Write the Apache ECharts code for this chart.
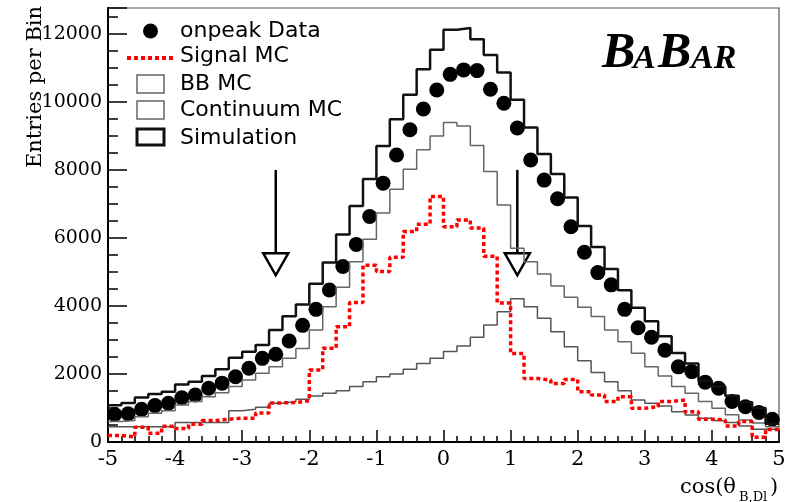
<!DOCTYPE html>
<html>
<head>
<meta charset="utf-8">
<title>cos(theta B,Dl)</title>
<script src="https://cdn.jsdelivr.net/npm/echarts@6.0.0/dist/echarts.min.js"></script>
<style>
html, body { margin: 0; padding: 0; background: #fff; }
#chart { width: 793px; height: 502px; }
</style>
</head>
<body>
<div id="chart"></div>
<script>
// 50 bins of width 0.2 from -5 to 5
const xMin = -5
const binWidth = 0.2
const yMax = 12760

const onpeakData = [810, 830, 960, 1070, 1140, 1300, 1380, 1580, 1730, 1920,
    2170, 2460, 2580, 2970, 3430, 3900, 4470, 5160, 5810, 6630,
    7610, 8440, 9180, 9790, 10350, 10810, 10940, 10920, 10370, 9960,
    9230, 8290, 7700, 7150, 6330, 5580, 4980, 4620, 3900, 3360,
    3080, 2700, 2210, 2070, 1760, 1580, 1190, 1040, 870, 670]
const signalMC = [190, 150, 430, 255, 460, 400, 520, 630, 670, 700,
    700, 850, 1150, 1160, 1215, 2120, 2760, 3390, 4100, 5200,
    5010, 5430, 6190, 6400, 7220, 6330, 6530, 6290, 5460, 4090,
    2600, 1870, 1820, 1720, 1840, 1480, 1380, 1190, 1330, 990,
    1040, 1190, 1235, 890, 670, 650, 470, 600, 140, 370]
// BB MC drawn stacked on top of continuum
const bbMC = [600, 630, 745, 845, 920, 1090, 1190, 1330, 1450, 1630,
    1820, 2020, 2215, 2460, 2750, 3290, 3980, 4550, 5300, 5960,
    6730, 7430, 8020, 8590, 9000, 9390, 9290, 8720, 7950, 6970,
    5700, 5300, 4940, 4590, 4255, 3960, 3690, 3290, 2950, 2610,
    2215, 1940, 1630, 1430, 1190, 990, 800, 650, 560, 450]
const continuumMC = [450, 450, 450, 450, 450, 570, 570, 570, 570, 920,
    960, 1020, 1140, 1190, 1255, 1350, 1430, 1510, 1630, 1775,
    1920, 2000, 2140, 2310, 2460, 2660, 2820, 3080, 3440, 3830,
    4210, 3980, 3640, 3245, 2800, 2390, 2040, 1775, 1510, 1235,
    1140, 1060, 890, 795, 700, 630, 570, 470, 375, 375]
const simulation = [1080, 1150, 1310, 1410, 1480, 1690, 1770, 1940, 2140, 2480,
    2650, 2850, 3290, 3700, 4040, 4650, 5280, 6100, 6940, 7730,
    8700, 9490, 10210, 10960, 11530, 12120, 12170, 11840, 11380, 10860,
    10060, 9250, 8470, 7880, 7190, 6350, 5730, 5090, 4460, 3950,
    3550, 3110, 2620, 2310, 1800, 1630, 1360, 1170, 1000, 540]
// cut arrows: x position, arrow start, arrow tip
const cutX = [-2.5, 1.1]
const arrowStart = 8000
const arrowTip = 4900

// histogram as step line through the bin edges
const toSteps = vals => {
    const pts = vals.map((v, i) => [xMin + i * binWidth, v])
    pts.push([xMin + vals.length * binWidth, vals[vals.length - 1]])
    return pts
}
const toCenters = vals => vals.map((v, i) => [xMin + (i + 0.5) * binWidth, v])

const serif = 'DejaVu Serif'
const sans = 'DejaVu Sans'

const histLine = (name, vals, lineStyle) => ({
    name: name,
    type: 'line',
    step: 'end',
    data: toSteps(vals),
    symbol: 'none',
    silent: true,
    lineStyle: lineStyle
})

const legendRow = (text, y) => ({
    type: 'text', x: 180, y: y,
    style: { text: text, font: '22px "' + sans + '"', fill: '#000', align: 'left', verticalAlign: 'middle' }
})

const myChart = echarts.init(document.getElementById('chart'))
myChart.setOption({
    animation: false,
    grid: {
        left: 108, right: 14, top: 8, bottom: 60,
        show: true, borderColor: '#555', borderWidth: 1.2, backgroundColor: 'transparent'
    },
    xAxis: {
        type: 'value', min: -5, max: 5, interval: 1,
        axisLine: { onZero: false, lineStyle: { color: '#000', width: 2 } },
        axisTick: { inside: true, length: 12, lineStyle: { color: '#000', width: 1.5 } },
        minorTick: { show: true, splitNumber: 5, length: 6, lineStyle: { color: '#000', width: 1.5 } },
        axisLabel: { fontFamily: serif, fontSize: 21, color: '#000', margin: 7 },
        splitLine: { show: false }
    },
    yAxis: [
        {
            type: 'value', min: 0, max: yMax, interval: 2000, position: 'left',
            axisLine: { show: true, onZero: false, lineStyle: { color: '#000', width: 2 } },
            axisTick: { inside: true, length: 19, lineStyle: { color: '#000', width: 1.5 } },
            axisLabel: {
                fontFamily: serif, fontSize: 19, color: '#000', margin: 6,
                formatter: v => (v % 2000 === 0 ? String(v) : '')
            },
            splitLine: { show: false }
        },
        {
            // minor ticks every 500
            type: 'value', min: 0, max: yMax, interval: 500, position: 'left', offset: 0,
            axisLine: { show: false, onZero: false },
            axisTick: { show: true, inside: true, length: 10, lineStyle: { color: '#000', width: 1.5 } },
            axisLabel: { show: false },
            splitLine: { show: false }
        }
    ],
    series: [
        histLine('Continuum MC', continuumMC, { color: '#555', width: 1.5 }),
        histLine('BB MC', bbMC, { color: '#666', width: 1.5 }),
        histLine('Simulation', simulation, { color: '#111', width: 2.5 }),
        histLine('Signal MC', signalMC, { color: '#ff0000', width: 3.5, type: [4, 3] }),
        {
            name: 'onpeak Data',
            type: 'scatter',
            data: toCenters(onpeakData),
            symbol: 'circle',
            symbolSize: 15,
            silent: true,
            itemStyle: { color: '#000', opacity: 1 }
        },
        {
            type: 'custom',
            silent: true,
            data: cutX.map(x => [x, arrowStart, arrowTip]),
            encode: { x: 0, y: 1 },
            renderItem: (params, api) => {
                const a = api.coord([api.value(0), api.value(1)])
                const b = api.coord([api.value(0), api.value(2)])
                const h = 22, w = 12.5
                return {
                    type: 'group',
                    children: [
                        { type: 'line', shape: { x1: a[0], y1: a[1], x2: b[0], y2: b[1] - h },
                          style: { stroke: '#000', lineWidth: 2.5 } },
                        { type: 'polygon', shape: { points: [[b[0] - w, b[1] - h], [b[0] + w, b[1] - h], [b[0], b[1]]] },
                          style: { fill: '#fff', stroke: '#000', lineWidth: 2.5 } }
                    ]
                }
            }
        }
    ],
    graphic: [
        // axis titles
        { type: 'text', x: 36, y: 87, rotation: Math.PI / 2,
          style: { text: 'Entries per Bin', font: '21px "' + serif + '"', fill: '#000', align: 'center', verticalAlign: 'middle' } },
        { type: 'text', x: 680, y: 488,
          style: { text: 'cos(θ', font: '21px "' + serif + '"', fill: '#000', align: 'left', verticalAlign: 'middle' } },
        { type: 'text', x: 739, y: 498,
          style: { text: 'B,Dl', font: '13px "' + serif + '"', fill: '#000', align: 'left', verticalAlign: 'middle' } },
        { type: 'text', x: 770, y: 488,
          style: { text: ')', font: '21px "' + serif + '"', fill: '#000', align: 'left', verticalAlign: 'middle' } },
        // legend
        { type: 'circle', shape: { cx: 150.5, cy: 31, r: 7.5 }, style: { fill: '#000' } },
        { type: 'line', shape: { x1: 127, y1: 58, x2: 174, y2: 58 }, style: { stroke: '#ff0000', lineWidth: 4, lineDash: [4, 3] } },
        { type: 'rect', shape: { x: 137, y: 75, width: 27, height: 18 }, style: { fill: 'none', stroke: '#666', lineWidth: 1.5 } },
        { type: 'rect', shape: { x: 137, y: 101, width: 27, height: 18 }, style: { fill: 'none', stroke: '#666', lineWidth: 1.5 } },
        { type: 'rect', shape: { x: 137, y: 129, width: 27, height: 16 }, style: { fill: 'none', stroke: '#111', lineWidth: 3 } },
        legendRow('onpeak Data', 31),
        legendRow('Signal MC', 56),
        legendRow('BB MC', 84),
        legendRow('Continuum MC', 110),
        legendRow('Simulation', 138),
        // experiment logo
        { type: 'text', x: 602, y: 54,
          style: { text: 'B', font: 'italic bold 50px "Liberation Serif"', fill: '#000', verticalAlign: 'middle' } },
        { type: 'text', x: 633, y: 59,
          style: { text: 'A', font: 'italic bold 34px "Liberation Serif"', fill: '#000', verticalAlign: 'middle' } },
        { type: 'text', x: 658, y: 54,
          style: { text: 'B', font: 'italic bold 50px "Liberation Serif"', fill: '#000', verticalAlign: 'middle' } },
        { type: 'text', x: 691, y: 59,
          style: { text: 'AR', font: 'italic bold 34px "Liberation Serif"', fill: '#000', verticalAlign: 'middle' } }
    ]
})
</script>
</body>
</html>
